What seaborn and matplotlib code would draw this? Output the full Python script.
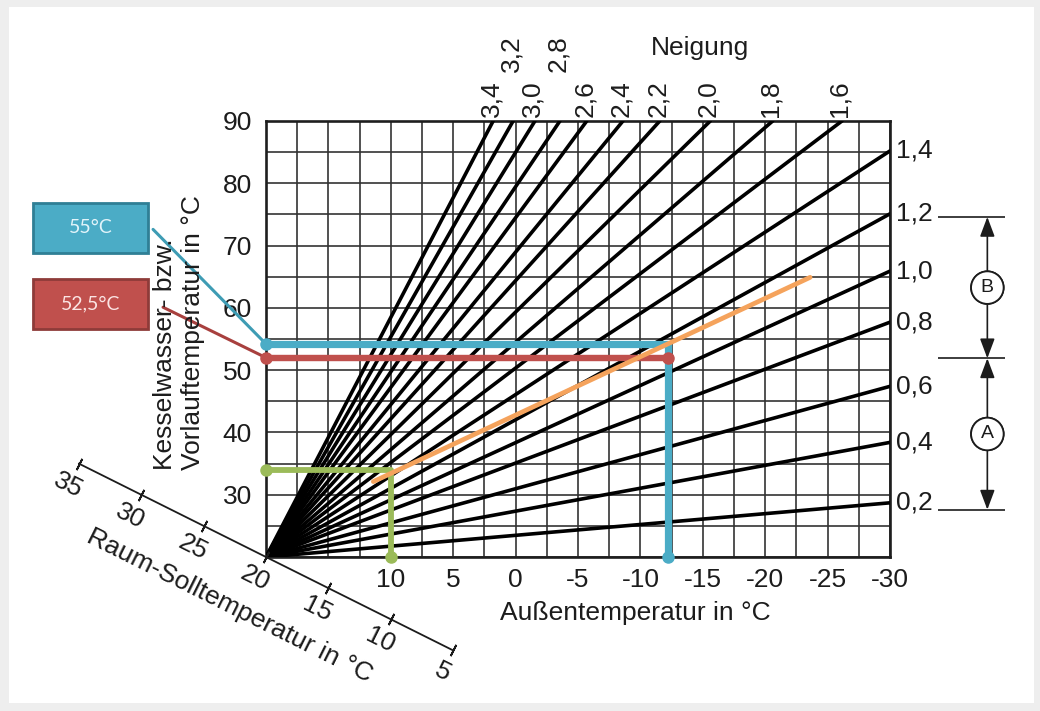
import math
import numpy as np
import pandas as pd
import seaborn as sns
import matplotlib.pyplot as plt
from matplotlib.patches import Rectangle

# Heizkennlinien, die am rechten Rand (-30 °C) enden
neigung_right = [1.4, 1.2, 1.0, 0.8, 0.6, 0.4, 0.2]
flow_at_right = [85.2, 75.1, 65.9, 57.7, 47.4, 38.4, 28.7]
# Heizkennlinien, die am oberen Rand (90 °C) enden
neigung_top = [3.4, 3.2, 3.0, 2.8, 2.6, 2.4, 2.2, 2.0, 1.8, 1.6]
outside_at_top = [1.8, 0.2, -1.55, -3.55, -5.7, -8.6, -11.55, -15.6, -20.6, -26.15]
label_row_top = [0, 1, 0, 1, 0, 0, 0, 0, 0, 0]

x_ticks = [10, 5, 0, -5, -10, -15, -20, -25, -30]
y_ticks = [30, 40, 50, 60, 70, 80, 90]
room_ticks = [35, 30, 25, 20, 15, 10, 5]

# eingezeichnete Ablesungen
blue_link_x = [29.05, 20]
blue_link_y = [72.6, 54.2]
blue_path_x = [20, -12.2, -12.2]
blue_path_y = [54.2, 54.2, 20]
red_link_x = [28.25, 20]
red_link_y = [60.1, 52.0]
red_path_x = [20, -12.2]
red_path_y = [52.0, 52.0]
green_path_x = [20, 10, 10]
green_path_y = [34.0, 34.0, 20]
orange_x = [11.4, -23.6]
orange_y = [32.1, 64.9]

# Bereiche A / B rechts
range_levels = [74.6, 51.9, 27.6]
range_labels = ["B", "A"]

BLUE = "#4BACC6"
RED = "#C0504D"
GREEN = "#9BBB59"
ORANGE = "#F5A35C"
INK = "#1c1c1c"
FS = 19

sns.set_theme(style="white")
plt.rcParams['font.family'] = ['Liberation Sans', 'DejaVu Sans']
plt.rcParams['text.color'] = INK

fig = plt.figure(figsize=(10.4, 7.11), dpi=100)
fig.patch.set_facecolor("#eeeeee")
fig.patches.append(Rectangle((9 / 1040, 8 / 711), 1025 / 1040, 696 / 711,
                             transform=fig.transFigure, fc="white", ec="none", zorder=-10))

ax = fig.add_axes([266 / 1040, 1 - 557 / 711, 624 / 1040, 436 / 711])
ax.set_facecolor("white")

rows = []
for n, v in zip(neigung_right, flow_at_right):
    lab = f"{n:.1f}".replace(".", ",")
    rows += [(lab, 20, 20), (lab, -30, v)]
for n, a in zip(neigung_top, outside_at_top):
    lab = f"{n:.1f}".replace(".", ",")
    rows += [(lab, 20, 20), (lab, a, 90)]
curves = pd.DataFrame(rows, columns=["neigung", "aussen", "vorlauf"])

sns.lineplot(data=curves, x="aussen", y="vorlauf", hue="neigung",
             palette={k: "black" for k in curves["neigung"].unique()},
             estimator=None, sort=False, legend=False, lw=2.6, ax=ax, zorder=3)

ax.set_xlim(20, -30)
ax.set_ylim(20, 90)
ax.set_xlabel("")
ax.set_ylabel("")
ax.set_xticks(x_ticks)
ax.set_xticklabels([str(t) for t in x_ticks])
ax.set_yticks(y_ticks)
ax.set_yticklabels([str(t) for t in y_ticks])
ax.set_xticks(np.arange(-30, 20.01, 2.5), minor=True)
ax.set_yticks(np.arange(20, 90.01, 5), minor=True)
ax.grid(True, which="both", color="#333333", lw=1.2, zorder=1)
ax.set_axisbelow(True)
ax.tick_params(which="both", length=0, labelsize=FS, labelcolor=INK)
ax.tick_params(axis="x", pad=8)
ax.tick_params(axis="y", pad=10)
for sp in ax.spines.values():
    sp.set_visible(True)
    sp.set_color("#1e1e1e")
    sp.set_linewidth(1.9)

# farbige Ablesungen
ax.plot(blue_link_x, blue_link_y, color="#3E9CB4", lw=2.2, clip_on=False, zorder=4)
ax.plot(red_link_x, red_link_y, color="#A8403E", lw=2.2, clip_on=False, zorder=4)
ax.plot(blue_path_x, blue_path_y, color=BLUE, lw=5.2, solid_capstyle="round", zorder=4)
ax.plot(red_path_x, red_path_y, color=RED, lw=4.6, solid_capstyle="round", zorder=4.2)
ax.plot(green_path_x, green_path_y, color=GREEN, lw=4.2, solid_capstyle="round", zorder=4)
ax.plot(orange_x, orange_y, color=ORANGE, lw=3.4, solid_capstyle="round", zorder=4.5)
ax.plot([blue_path_x[0], blue_path_x[-1]], [blue_path_y[0], blue_path_y[-1]], "o",
        color=BLUE, ms=8, clip_on=False, zorder=6)
ax.plot(red_path_x, red_path_y, "o", color=RED, ms=8, clip_on=False, zorder=6)
ax.plot([green_path_x[0], green_path_x[-1]], [green_path_y[0], green_path_y[-1]], "o",
        color=GREEN, ms=8, clip_on=False, zorder=6)

# Beschriftungskästen
for (y0, y1, txt, fc, ec, tc) in [(68.8, 76.85, "55°C", BLUE, "#2F7F95", "#E2F4FA"),
                                   (56.55, 64.6, "52,5°C", RED, "#8E3B39", "#FBE4E3")]:
    ax.add_patch(Rectangle((29.45, y0), 9.22, y1 - y0, fc=fc, ec=ec, lw=2,
                           clip_on=False, zorder=5))
    ax.text(34.06, (y0 + y1) / 2, txt, ha="center", va="center", fontsize=14,
            color=tc, family=["Lato", "DejaVu Sans"], zorder=6, clip_on=False)

# Beschriftung der Kennlinien
for n, v in zip(neigung_right, flow_at_right):
    ax.annotate(f"{n:.1f}".replace(".", ","), xy=(-30, v), xytext=(6, 0),
                textcoords="offset pixels", ha="left", va="center",
                fontsize=FS, annotation_clip=False)
for n, a, row in zip(neigung_top, outside_at_top, label_row_top):
    ax.annotate(f"{n:.1f}".replace(".", ","), xy=(a, 90), xytext=(-2, 4 + row * 45),
                textcoords="offset pixels", ha="center", va="bottom", rotation=90,
                fontsize=FS, annotation_clip=False)
fig.text(700 / 1040, 1 - 48 / 711, "Neigung", ha="center", va="center", fontsize=FS)

fig.text(179 / 1040, 1 - 470 / 711, "Kesselwasser- bzw.\nVorlauftemperatur in °C",
         rotation=90, ha="center", va="bottom", multialignment="left", fontsize=FS)
fig.text(635 / 1040, 1 - 613 / 711, "Außentemperatur in °C", ha="center", va="center",
         fontsize=FS)

# schräge Achse Raum-Solltemperatur
fig.canvas.draw()
p = ax.transData.transform([[35, 35], [5, 5]])
ang = math.degrees(math.atan2(p[1, 1] - p[0, 1], p[1, 0] - p[0, 0]))
s, c = math.sin(math.radians(ang)), math.cos(math.radians(ang))
ax.plot(room_ticks, room_ticks, color=INK, lw=1.3, clip_on=False, zorder=3)
ax.plot(room_ticks, room_ticks, ls="none", marker=(2, 2, ang), ms=9, mew=1.3,
        color=INK, clip_on=False, zorder=3)
for r in room_ticks:
    ax.annotate(str(r), xy=(r, r), xytext=(s * 24, -c * 24), textcoords="offset pixels",
                rotation=ang, rotation_mode="anchor", ha="center", va="center",
                fontsize=FS, annotation_clip=False)
ax.annotate("Raum-Solltemperatur in °C", xy=(20.8, 20.8), xytext=(s * 60, -c * 60),
            textcoords="offset pixels", rotation=ang, rotation_mode="anchor",
            ha="center", va="center", fontsize=FS, annotation_clip=False)

# Bereiche A und B
ax.hlines(range_levels, -33.85, -39.2, color=INK, lw=1.2, clip_on=False)
arrow = dict(arrowstyle="-|>,head_length=0.8,head_width=0.3", color=INK, lw=1.2,
             shrinkA=0, shrinkB=0, mutation_scale=15)
circle = dict(boxstyle="circle,pad=0.4", fc="white", ec=INK, lw=1.3)
for lab, hi, lo in zip(range_labels, range_levels[:-1], range_levels[1:]):
    mid = (hi + lo) / 2
    for tgt in (hi, lo):
        ax.annotate(lab, xy=(-37.8, tgt), xytext=(-37.8, mid), ha="center", va="center",
                    fontsize=14, bbox=circle, arrowprops=arrow, annotation_clip=False)

fig.savefig("out.png", dpi=100, facecolor=fig.get_facecolor())
